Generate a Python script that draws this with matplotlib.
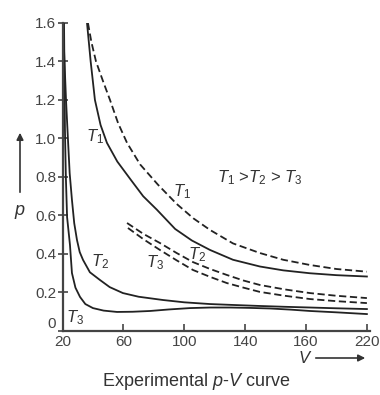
import matplotlib
matplotlib.use("Agg")
import matplotlib.pyplot as plt

plt.rcParams['font.family'] = ['Liberation Sans', 'DejaVu Sans']
plt.rcParams['mathtext.fontset'] = 'custom'
plt.rcParams['mathtext.it'] = 'Liberation Sans:italic'
plt.rcParams['mathtext.rm'] = 'Liberation Sans'

# curves (V, p)
t1_solid_v = [36.1, 38.5, 41.3, 45.0, 49.2, 56.0, 65.0, 73.0, 82.0, 94.0, 105.0, 116.9, 132.0,
              149.7, 165.0, 182.5, 200.0, 220.0]
t1_solid_p = [1.60, 1.40, 1.20, 1.07, 0.977, 0.88, 0.784, 0.70, 0.63, 0.53, 0.47, 0.421, 0.37,
              0.335, 0.315, 0.300, 0.290, 0.283]
t1_dash_v = [36.7, 39.0, 42.0, 46.5, 51.2, 56.5, 62.4, 71.0, 82.7, 95.0, 106.0, 116.9,
             132.0, 149.7, 165.0, 182.5, 200.0, 220.0]
t1_dash_p = [1.60, 1.50, 1.40, 1.30, 1.20, 1.08, 0.977, 0.865, 0.76, 0.66, 0.585, 0.525,
             0.455, 0.405, 0.370, 0.343, 0.322, 0.308]

t2_solid_v = [20.3, 22.3, 23.6, 24.7, 26.2, 27.7, 29.5, 31.3, 33.5, 38.0, 44.6, 51.0, 59.7,
              70.0, 86.0, 100.0, 116.9, 133.0, 149.7, 165.0, 182.6, 200.0, 220.0]
t2_solid_p = [1.60, 1.20, 0.992, 0.82, 0.681, 0.56, 0.473, 0.41, 0.369, 0.305, 0.265, 0.228,
              0.197, 0.178, 0.161, 0.149, 0.140, 0.135, 0.130, 0.126, 0.122, 0.118, 0.114]
t2_dash_v = [62.4, 73.0, 84.0, 95.0, 105.7, 117.0, 128.0, 139.0, 149.7, 166.0, 182.6, 200.0, 220.0]
t2_dash_p = [0.561, 0.505, 0.457, 0.405, 0.358, 0.322, 0.291, 0.262, 0.239, 0.216, 0.197,
             0.183, 0.171]

t3_solid_v = [21.0, 21.6, 22.2, 23.0, 24.9, 26.2, 28.5, 31.5, 35.0, 40.0, 47.0, 55.8, 66.0,
              77.5, 90.0, 103.7, 117.0, 130.0, 143.0, 156.3, 170.0, 182.6, 200.0, 220.0]
t3_solid_p = [1.60, 1.044, 0.80, 0.592, 0.447, 0.301, 0.225, 0.177, 0.14, 0.119, 0.106,
              0.099, 0.100, 0.104, 0.112, 0.119, 0.122, 0.122, 0.120, 0.117, 0.111, 0.104,
              0.097, 0.088]
t3_dash_v = [63.0, 73.5, 84.0, 95.0, 105.7, 117.0, 128.0, 139.0, 149.7, 166.0, 182.6, 200.0, 220.0]
t3_dash_p = [0.535, 0.475, 0.421, 0.367, 0.317, 0.281, 0.249, 0.225, 0.203, 0.183, 0.166,
             0.155, 0.145]

xtick_pos = [20, 60, 100, 140, 180, 220]
xtick_labels = ['20', '60', '100', '140', '160', '220']
ytick_pos = [0, 0.2, 0.4, 0.6, 0.8, 1.0, 1.2, 1.4, 1.6]
ytick_labels = ['0', '0.2', '0.4', '0.6', '0.8', '1.0', '1.2', '1.4', '1.6']

fig = plt.figure(figsize=(3.8, 3.95), dpi=100)
ax = fig.add_axes([0.1645, 0.162, 0.809, 0.78])

line_col = '#222222'
dash = (0, (4, 2))
ax.plot(t1_solid_v, t1_solid_p, color=line_col, lw=1.3)
ax.plot(t1_dash_v, t1_dash_p, color=line_col, lw=1.3, linestyle=dash)
ax.plot(t2_solid_v, t2_solid_p, color=line_col, lw=1.3)
ax.plot(t2_dash_v, t2_dash_p, color=line_col, lw=1.3, linestyle=dash)
ax.plot(t3_solid_v, t3_solid_p, color=line_col, lw=1.3)
ax.plot(t3_dash_v, t3_dash_p, color=line_col, lw=1.3, linestyle=dash)

lab = dict(fontsize=12, color='#333333', ha='center', va='center')
ax.text(41.4, 1.008, '$T_1$', **lab)
ax.text(98.5, 0.722, '$T_1$', **lab)
ax.text(44.6, 0.358, '$T_2$', **lab)
ax.text(108.3, 0.395, '$T_2$', **lab)
ax.text(80.8, 0.353, '$T_3$', **lab)
ax.text(28.2, 0.068, '$T_3$', **lab)
ax.text(149.7, 0.795, '$T_1$ >$T_2$ > $T_3$', **lab)

ax.set_xlim(20, 222)
ax.set_ylim(0, 1.6)
ax.spines['top'].set_visible(False)
ax.spines['right'].set_visible(False)
for s in ('left', 'bottom'):
    ax.spines[s].set_linewidth(1.6)
    ax.spines[s].set_color('#444444')
ax.set_xticks(xtick_pos)
ax.set_xticklabels(xtick_labels)
ax.set_yticks(ytick_pos)
ax.set_yticklabels(ytick_labels)
ax.tick_params(axis='x', direction='in', length=5, width=1.2, colors='#444444',
               labelsize=11, pad=3)
ax.tick_params(axis='y', direction='inout', length=7, width=1.2, colors='#444444',
               labelsize=11, pad=1)
# the "0" sits a little above the axis line, as in the original
ax.get_yticklabels()[0].set_verticalalignment('bottom')

# axis names with arrows
fig.text(20 / 380, 1 - 212 / 395, '$p$', fontsize=13, color='#333333',
         ha='center', va='center')
ax.annotate('', xy=(20 / 380, 1 - 130 / 395), xytext=(20 / 380, 1 - 195 / 395),
            xycoords='figure fraction',
            arrowprops=dict(arrowstyle='-|>', color='#333333', lw=1.2, mutation_scale=10))
fig.text(305 / 380, 1 - 358 / 395, '$V$', fontsize=12, color='#333333',
         ha='center', va='center')
ax.annotate('', xy=(368 / 380, 1 - 358 / 395), xytext=(313 / 380, 1 - 358 / 395),
            xycoords='figure fraction',
            arrowprops=dict(arrowstyle='-|>', color='#333333', lw=1.2, mutation_scale=10))
fig.text(196 / 380, 1 - 382 / 395, 'Experimental $p$-$V$ curve', fontsize=13,
         color='#333333', ha='center', va='center')

fig.savefig('out.png', dpi=100)
